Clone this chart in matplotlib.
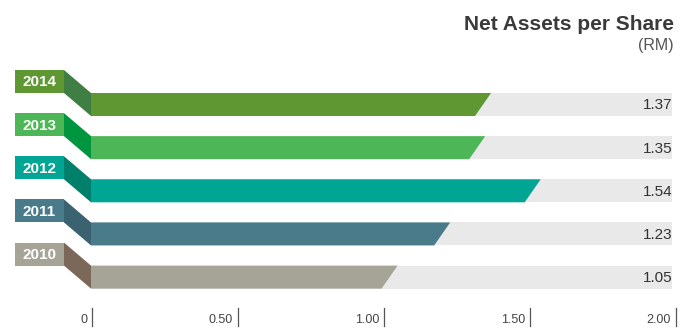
import matplotlib.pyplot as plt
from matplotlib.patches import Polygon, Rectangle

years = ['2014', '2013', '2012', '2011', '2010']
values = [1.37, 1.35, 1.54, 1.23, 1.05]
bar_colors = ['#5f9732', '#4db757', '#00a693', '#4a7b8a', '#a6a497']
fold_colors = ['#3f7f44', '#00953f', '#00806a', '#3a6270', '#7b6858']
ticks = [0, 0.5, 1.0, 1.5, 2.0]
tick_labels = ['0', '0.50', '1.00', '1.50', '2.00']

plt.rcParams['font.family'] = ['Liberation Sans', 'DejaVu Sans']

W, H = 686, 331
fig = plt.figure(figsize=(W / 100, H / 100), dpi=100)
ax = fig.add_axes([0, 0, 1, 1])

# 292 px per unit, zero at x=91; rows 43.15 px apart, first centred at y=104.5
px_x = 292.0
px_y = 43.15
ax.set_xlim(-91 / px_x, (W - 91) / px_x)
ax.set_ylim((H - 104.5) / px_y, -104.5 / px_y)
ax.axis('off')

bh = 23 / px_y          # bar height in row units
slant = 16 / px_x       # cut at the end of each bar
tab_l, tab_r = -76 / px_x, -27 / px_x
xmax = 2.0

for i, (yr, v) in enumerate(zip(years, values)):
    top, bot = i - bh / 2, i + bh / 2
    # light track behind the bar
    ax.add_patch(Rectangle((0, top), xmax - 0.01, bh, color='#e9e9e9', lw=0))
    # value bar with slanted end
    ax.add_patch(Polygon([(0, top), (v, top), (v - slant, bot), (0, bot)],
                         closed=True, color=bar_colors[i], lw=0))
    # year tab above-left and the folded strip joining it to the bar
    ax.add_patch(Rectangle((tab_l, top - bh), tab_r - tab_l, bh,
                           color=bar_colors[i], lw=0))
    ax.add_patch(Polygon([(tab_r, top - bh), (0, top), (0, bot), (tab_r, top)],
                         closed=True, color=fold_colors[i], lw=0))
    ax.text((tab_l + tab_r) / 2, top - bh / 2 + 0.02, yr, ha='center', va='center',
            color='white', fontsize=11, fontweight='bold')
    ax.text(xmax - 0.01, i + 0.02, f'{v:.2f}', ha='right', va='center',
            color='#333333', fontsize=11)

# value axis ticks along the bottom
tick_top = (308 - 104.5) / px_y
tick_bot = (326 - 104.5) / px_y
for t, lab in zip(ticks, tick_labels):
    ax.plot([t + 1 / px_x, t + 1 / px_x], [tick_top, tick_bot], color='#555555', lw=0.9)
    ax.text(t - 4 / px_x, tick_bot, lab, ha='right', va='bottom',
            color='#444444', fontsize=9)

fig.text(674 / W, 1 - 30 / H, 'Net Assets per Share', ha='right', va='baseline',
         color='#3a3a3a', fontsize=15, fontweight='bold')
fig.text(674 / W, 1 - 50 / H, '(RM)', ha='right', va='baseline',
         color='#555555', fontsize=11.5)

fig.savefig('out.png', dpi=100)
